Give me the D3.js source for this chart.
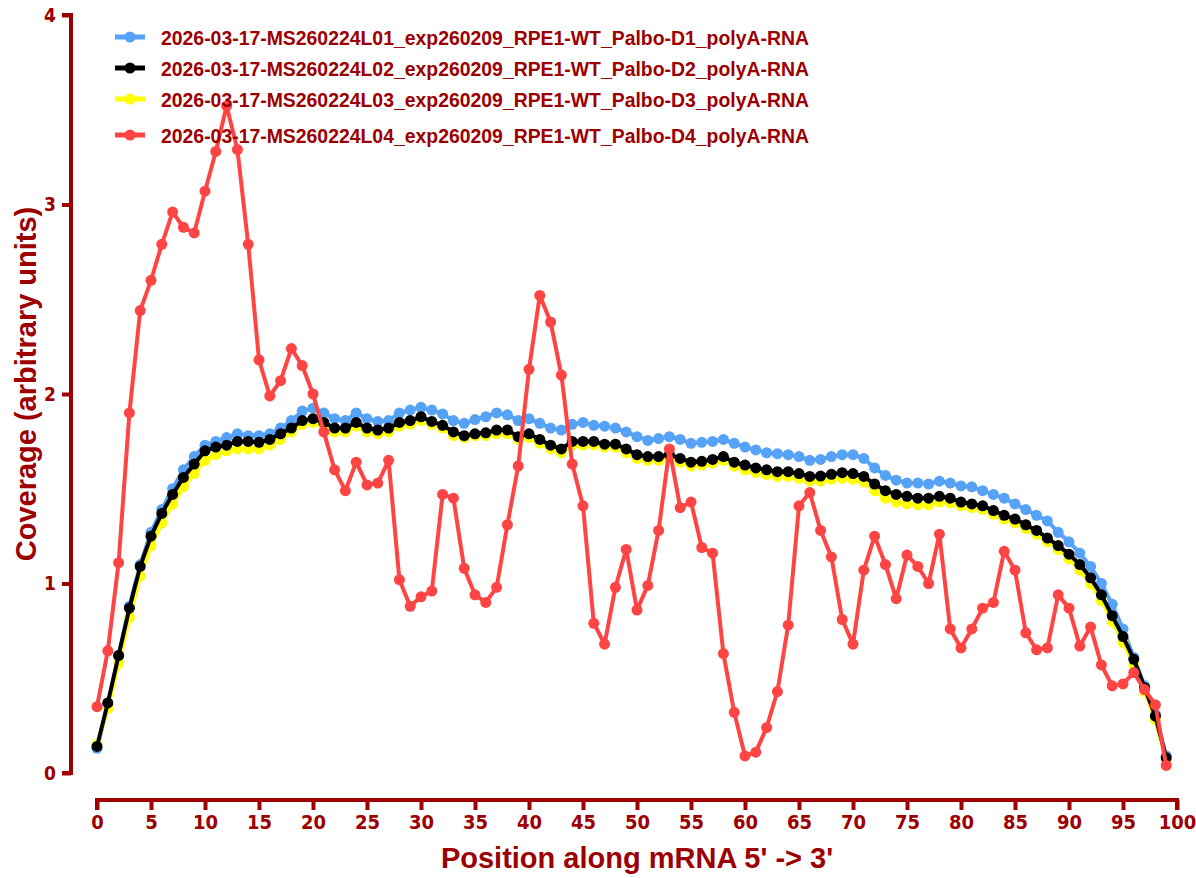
<!DOCTYPE html>
<html>
<head>
<meta charset="utf-8">
<script src="https://cdn.jsdelivr.net/npm/d3@7"></script>
<style>
  body { margin: 0; background: #fff; }
  svg { display: block; }
</style>
</head>
<body>
<div id="chart"></div>
<script>
// positions along the transcript (percent bins)
var positions = [0,1,2,3,4,5,6,7,8,9,10,11,12,13,14,15,16,17,18,19,20,21,22,23,24,25,26,27,28,29,
  30,31,32,33,34,35,36,37,38,39,40,41,42,43,44,45,46,47,48,49,50,51,52,53,54,55,56,57,58,59,
  60,61,62,63,64,65,66,67,68,69,70,71,72,73,74,75,76,77,78,79,80,81,82,83,84,85,86,87,88,89,
  90,91,92,93,94,95,96,97,98,99];

var seriesNames = [
  "2026-03-17-MS260224L01_exp260209_RPE1-WT_Palbo-D1_polyA-RNA",
  "2026-03-17-MS260224L02_exp260209_RPE1-WT_Palbo-D2_polyA-RNA",
  "2026-03-17-MS260224L03_exp260209_RPE1-WT_Palbo-D3_polyA-RNA",
  "2026-03-17-MS260224L04_exp260209_RPE1-WT_Palbo-D4_polyA-RNA"
];
var seriesColors = ["#55a2f7", "#000000", "#ffff00", "#ff4444"];

var d1 = [0.13,0.36,0.62,0.88,1.10,1.27,1.39,1.50,1.60,1.67,1.73,1.75,1.77,1.79,1.78,1.78,1.79,1.82,1.86,1.91,
  1.925,1.90,1.87,1.86,1.90,1.87,1.855,1.86,1.90,1.915,1.93,1.915,1.895,1.86,1.845,1.865,1.88,1.90,1.89,1.86,
  1.87,1.845,1.82,1.81,1.84,1.85,1.835,1.83,1.82,1.80,1.775,1.755,1.765,1.775,1.76,1.74,1.745,1.75,1.76,1.74,
  1.72,1.705,1.69,1.685,1.68,1.67,1.65,1.655,1.67,1.68,1.68,1.66,1.61,1.57,1.545,1.53,1.53,1.525,1.54,1.53,
  1.515,1.51,1.49,1.47,1.45,1.42,1.39,1.36,1.33,1.27,1.22,1.16,1.09,1.00,0.89,0.76,0.61,0.46,0.31,0.09];

var d2 = [0.14,0.37,0.62,0.87,1.09,1.25,1.37,1.47,1.56,1.63,1.70,1.72,1.73,1.75,1.75,1.745,1.76,1.79,1.82,1.86,
  1.87,1.85,1.82,1.82,1.85,1.82,1.81,1.82,1.85,1.86,1.88,1.855,1.835,1.80,1.78,1.79,1.795,1.81,1.81,1.775,
  1.79,1.76,1.73,1.71,1.75,1.75,1.75,1.735,1.735,1.71,1.68,1.67,1.67,1.68,1.66,1.64,1.645,1.655,1.67,1.64,
  1.625,1.61,1.60,1.59,1.59,1.58,1.565,1.567,1.576,1.585,1.58,1.565,1.525,1.49,1.47,1.46,1.45,1.45,1.46,1.45,
  1.43,1.42,1.41,1.385,1.36,1.34,1.31,1.28,1.24,1.20,1.155,1.10,1.03,0.94,0.83,0.72,0.60,0.45,0.30,0.08];

var d3v = [0.15,0.34,0.58,0.82,1.04,1.20,1.32,1.42,1.51,1.58,1.65,1.68,1.70,1.71,1.71,1.71,1.73,1.76,1.80,1.84,
  1.85,1.83,1.80,1.80,1.83,1.80,1.79,1.80,1.83,1.84,1.86,1.84,1.82,1.78,1.77,1.78,1.78,1.79,1.79,1.76,
  1.77,1.74,1.71,1.69,1.73,1.73,1.73,1.72,1.72,1.69,1.66,1.65,1.65,1.66,1.64,1.62,1.625,1.635,1.65,1.62,
  1.60,1.585,1.575,1.565,1.565,1.555,1.54,1.54,1.55,1.555,1.55,1.535,1.49,1.45,1.43,1.42,1.415,1.415,1.43,1.425,
  1.41,1.40,1.39,1.365,1.34,1.32,1.29,1.26,1.22,1.18,1.13,1.07,1.00,0.91,0.80,0.69,0.57,0.43,0.28,0.07];

var d4 = [0.35,0.645,1.11,1.90,2.44,2.60,2.79,2.96,2.88,2.85,3.07,3.28,3.52,3.29,2.79,2.18,1.99,2.07,2.24,2.15,
  2.00,1.80,1.60,1.49,1.64,1.52,1.53,1.65,1.02,0.88,0.93,0.96,1.47,1.45,1.08,0.94,0.90,0.98,1.31,1.62,
  2.13,2.52,2.38,2.10,1.63,1.41,0.79,0.68,0.98,1.18,0.86,0.99,1.28,1.71,1.40,1.43,1.19,1.16,0.63,0.32,
  0.09,0.11,0.24,0.43,0.78,1.41,1.48,1.28,1.14,0.81,0.68,1.07,1.25,1.10,0.92,1.15,1.09,1.00,1.26,0.76,
  0.66,0.76,0.87,0.90,1.17,1.07,0.74,0.65,0.66,0.94,0.87,0.67,0.77,0.57,0.46,0.47,0.53,0.44,0.36,0.04];

var xTicks = [0,5,10,15,20,25,30,35,40,45,50,55,60,65,70,75,80,85,90,95,100];
var yTicks = [0,1,2,3,4];

var axisColor = "#9c0000";
var W = 1196, H = 878;

var svg = d3.select("#chart").append("svg")
  .attr("width", W)
  .attr("height", H);

var x = d3.scaleLinear().domain([0, 100]).range([97, 1177]);
var y = d3.scaleLinear().domain([0, 4]).range([773, 15]);

// y axis (offset to the left, prism style)
var yAxis = svg.append("g")
  .attr("transform", "translate(71,0)")
  .call(d3.axisLeft(y).tickValues(yTicks).tickSize(9).tickPadding(6).tickFormat(d3.format("d")));
yAxis.select(".domain").attr("stroke", axisColor).attr("stroke-width", 4).attr("d", "M-9," + y(4) + "H0V" + y(0) + "H-9");
yAxis.selectAll(".tick line").attr("stroke", axisColor).attr("stroke-width", 4);
yAxis.selectAll(".tick text")
  .attr("fill", axisColor)
  .style("font-family", "'Liberation Sans Narrow', 'DejaVu Sans Condensed', 'Liberation Sans', sans-serif")
  .style("font-weight", "bold")
  .style("font-size", "19px");

// x axis (detached below the plot)
var xAxis = svg.append("g")
  .attr("transform", "translate(0,800)")
  .call(d3.axisBottom(x).tickValues(xTicks).tickSize(10).tickPadding(5));
xAxis.select(".domain").attr("stroke", axisColor).attr("stroke-width", 4).attr("d", "M" + x(0) + ",10V0H" + x(100) + "V10");
xAxis.selectAll(".tick line").attr("stroke", axisColor).attr("stroke-width", 4);
xAxis.selectAll(".tick text")
  .attr("fill", axisColor)
  .style("font-family", "'Liberation Sans Narrow', 'DejaVu Sans Condensed', 'Liberation Sans', sans-serif")
  .style("font-weight", "bold")
  .style("font-size", "20px");

// axis titles
svg.append("text")
  .attr("x", 637)
  .attr("y", 868)
  .attr("text-anchor", "middle")
  .attr("fill", axisColor)
  .style("font-family", "'Liberation Sans', Arial, sans-serif")
  .style("font-weight", "bold")
  .style("font-size", "29px")
  .text("Position along mRNA 5' -> 3'");

svg.append("text")
  .attr("transform", "translate(36,384) rotate(-90)")
  .attr("text-anchor", "middle")
  .attr("fill", axisColor)
  .style("font-family", "'Liberation Sans', Arial, sans-serif")
  .style("font-weight", "bold")
  .style("font-size", "29px")
  .text("Coverage (arbitrary units)");

// series
var allSeries = [d1, d2, d3v, d4];
var drawOrder = [0, 2, 1, 3];

var line = d3.line()
  .x(function(d) { return x(d.pos); })
  .y(function(d) { return y(d.val); });

drawOrder.forEach(function(i) {
  var pts = positions.map(function(p, j) { return {pos: p, val: allSeries[i][j]}; });
  var g = svg.append("g");
  g.append("path")
    .datum(pts)
    .attr("fill", "none")
    .attr("stroke", seriesColors[i])
    .attr("stroke-width", 4)
    .attr("stroke-linejoin", "round")
    .attr("d", line);
  g.selectAll("circle")
    .data(pts)
    .enter().append("circle")
    .attr("cx", function(d) { return x(d.pos); })
    .attr("cy", function(d) { return y(d.val); })
    .attr("r", 5.5)
    .attr("fill", seriesColors[i]);
});

// legend
var legendY = [37, 68, 99, 135];
var legend = svg.append("g");
seriesNames.forEach(function(name, i) {
  var row = legend.append("g").attr("transform", "translate(0," + legendY[i] + ")");
  row.append("line")
    .attr("x1", 115).attr("x2", 145)
    .attr("stroke", seriesColors[i])
    .attr("stroke-width", 5);
  row.append("circle")
    .attr("cx", 130).attr("r", 5.5)
    .attr("fill", seriesColors[i]);
  row.append("text")
    .attr("x", 161)
    .attr("dy", "0.36em")
    .attr("fill", axisColor)
    .attr("textLength", 648)
    .attr("lengthAdjust", "spacingAndGlyphs")
    .style("font-family", "'Liberation Sans', Arial, sans-serif")
    .style("font-weight", "bold")
    .style("font-size", "21px")
    .text(name);
});
</script>
</body>
</html>
